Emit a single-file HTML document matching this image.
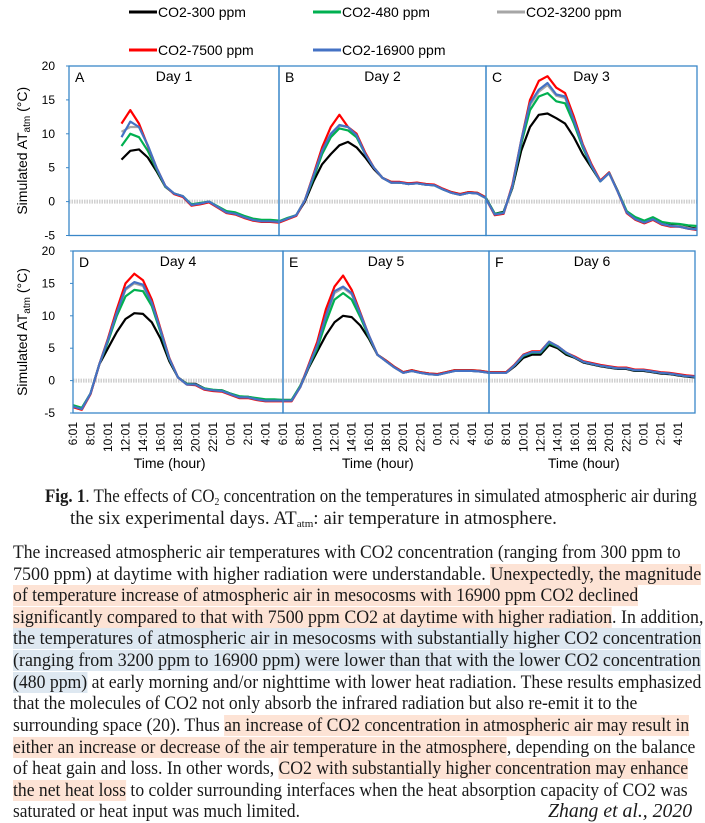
<!DOCTYPE html>
<html><head><meta charset="utf-8">
<style>
html,body{margin:0;padding:0;background:#fff;}
body{width:705px;height:823px;position:relative;overflow:hidden;font-family:"Liberation Sans",sans-serif;}
svg{position:absolute;left:0;top:0;}
.ln{position:absolute;white-space:nowrap;font-family:"Liberation Serif",serif;font-size:19px;line-height:22px;height:22px;color:#1a1a1a;transform-origin:0 50%;}
.ho{background:#fde3d5;}
.hb{background:#dee8f1;}
sub{font-size:11px;vertical-align:-3px;line-height:0;}
</style></head><body>
<svg id="chart" width="705" height="480" xmlns="http://www.w3.org/2000/svg"></svg>

<div class="ln" data-w="652" style="left:45px;top:486px;"><b>Fig. 1</b>. The effects of CO<sub>2</sub> concentration on the temperatures in simulated atmospheric air during</div>
<div class="ln" data-w="487" style="left:70px;top:508px;">the six experimental days. AT<sub>atm</sub>: air temperature in atmosphere.</div>

<div class="ln" data-w="668" style="left:13px;top:542px;">The increased atmospheric air temperatures with CO2 concentration (ranging from 300 ppm to</div>
<div class="ln" data-w="688" style="left:13px;top:564px;">7500 ppm) at daytime with higher radiation were understandable. <span class="ho">Unexpectedly, the magnitude</span></div>
<div class="ln" data-w="625" style="left:13px;top:585px;"><span class="ho">of temperature increase of atmospheric air in mesocosms with 16900 ppm CO2 declined</span></div>
<div class="ln" data-w="690" style="left:13px;top:607px;"><span class="ho">significantly compared to that with 7500 ppm CO2 at daytime with higher radiation</span>. In addition,</div>
<div class="ln" data-w="688" style="left:13px;top:628px;"><span class="hb">the temperatures of atmospheric air in mesocosms with substantially higher CO2 concentration</span></div>
<div class="ln" data-w="688" style="left:13px;top:650px;"><span class="hb">(ranging from 3200 ppm to 16900 ppm) were lower than that with the lower CO2 concentration</span></div>
<div class="ln" data-w="688" style="left:13px;top:672px;"><span class="hb">(480 ppm)</span> at early morning and/or nighttime with lower heat radiation. These results emphasized</div>
<div class="ln" data-w="624" style="left:13px;top:693px;">that the molecules of CO2 not only absorb the infrared radiation but also re-emit it to the</div>
<div class="ln" data-w="676" style="left:13px;top:715px;">surrounding space (20). Thus <span class="ho">an increase of CO2 concentration in atmospheric air may result in</span></div>
<div class="ln" data-w="682" style="left:13px;top:737px;"><span class="ho">either an increase or decrease of the air temperature in the atmosphere</span>, depending on the balance</div>
<div class="ln" data-w="675" style="left:13px;top:758px;">of heat gain and loss. In other words, <span class="ho">CO2 with substantially higher concentration may enhance</span></div>
<div class="ln" data-w="675" style="left:13px;top:780px;"><span class="ho">the net heat loss</span> to colder surrounding interfaces when the heat absorption capacity of CO2 was</div>
<div class="ln" data-w="287" style="left:13px;top:801px;">saturated or heat input was much limited.</div>
<div class="ln" data-w="144" style="left:548px;top:800px;font-style:italic;font-size:20px;">Zhang et al., 2020</div>

<script>
// ---- data (hourly, h0 = 6:01 ... h24 = 6:00 next day), one array per series per day ----
const dayLabels = ["Day 1","Day 2","Day 3","Day 4","Day 5","Day 6"];
const panelLetters = ["A","B","C","D","E","F"];
const seriesNames = ["CO2-300 ppm","CO2-480 ppm","CO2-3200 ppm","CO2-7500 ppm","CO2-16900 ppm"];
const xTickLabels = ["6:01","8:01","10:01","12:01","14:01","16:01","18:01","20:01","22:01","0:01","2:01","4:01"];
const yTickValues = [20,15,10,5,0,-5];
const N = null;
const s300 = [
 [N,N,N,N,N,N,6.2,7.5,7.7,6.5,4.5,2.2,1.2,0.8,-0.5,-0.3,0,-0.8,-1.5,-1.7,-2.2,-2.6,-2.8,-2.8,-2.9],
 [-3,-2.5,-2,0,3,5.5,7,8.3,8.8,8,6.5,4.8,3.5,2.8,2.8,2.6,2.7,2.5,2.4,1.8,1.3,1,1.3,1.2,0.5],
 [0.5,-1.8,-1.5,2,7.5,11,12.8,13,12.3,11.5,9.5,7,5,3,4.2,1.5,-1.5,-2.5,-3,-2.5,-3.2,-3.5,-3.5,-3.8,-4],
 [-4,-4.3,-2,2.5,5,7.5,9.5,10.4,10.3,9,6.5,3,0.5,-0.5,-0.5,-1.2,-1.5,-1.5,-2,-2.5,-2.5,-2.8,-3,-3,-3],
 [-3,-3,-1,2,4.5,7,9,10,9.8,8.5,6.5,4,3,2,1.2,1.5,1.2,1,0.9,1.2,1.5,1.5,1.5,1.4,1.2],
 [1.2,1.2,1.2,2.2,3.5,4,4,5.5,5,4,3.5,2.8,2.5,2.2,2,1.8,1.8,1.5,1.5,1.3,1.1,1,0.8,0.6,0.5]
];
const s480 = [
 [N,N,N,N,N,N,8.2,10,9.5,7.5,4.8,2.2,1.2,0.8,-0.4,-0.2,0,-0.7,-1.4,-1.6,-2.1,-2.5,-2.7,-2.7,-2.8],
 [-2.9,-2.4,-2,0.2,3.5,7,9.5,10.8,10.5,9.5,7,5,3.5,2.9,2.8,2.7,2.7,2.6,2.4,1.8,1.4,1.1,1.4,1.3,0.6],
 [0.5,-1.8,-1.6,2.2,8.5,13.5,15.5,16,14.8,14.5,11.5,8,5.2,3,4.3,1.5,-1.4,-2.3,-2.8,-2.3,-3,-3.2,-3.3,-3.5,-3.6],
 [-3.8,-4.2,-2,2.5,6,10,13,14,13.8,11.5,7.5,3.3,0.5,-0.5,-0.6,-1.2,-1.4,-1.5,-2,-2.4,-2.5,-2.7,-2.9,-2.9,-3],
 [-3,-3,-0.8,2.2,5,9,12.5,13.5,12.5,9.8,6.8,4,3.1,2.1,1.3,1.6,1.3,1.1,1,1.3,1.6,1.6,1.6,1.5,1.3],
 [1.3,1.3,1.3,2.4,3.8,4.3,4.3,5.8,5.2,4.2,3.6,2.9,2.6,2.3,2.1,1.9,1.9,1.6,1.6,1.4,1.2,1.1,0.9,0.7,0.6]
];
const s3200 = [
 [N,N,N,N,N,N,10.3,11,11,8.3,5,2.3,1.2,0.8,-0.5,-0.3,0,-0.8,-1.5,-1.7,-2.3,-2.7,-2.9,-2.9,-3],
 [-3,-2.5,-2,0.2,3.7,7.3,9.8,11.2,11,9.7,7,5,3.5,2.8,2.8,2.6,2.7,2.5,2.4,1.8,1.3,1,1.3,1.2,0.5],
 [0.4,-1.9,-1.7,2.2,8.8,14.2,16.2,17.2,15.6,15.3,11.8,8.2,5.3,3,4.2,1.4,-1.6,-2.6,-3.1,-2.6,-3.3,-3.6,-3.6,-3.9,-4.1],
 [-4,-4.4,-2,2.5,6.2,10.4,14,15,14.6,11.8,7.7,3.4,0.5,-0.6,-0.6,-1.3,-1.5,-1.6,-2.1,-2.6,-2.6,-2.9,-3.1,-3.1,-3.1],
 [-3.1,-3.1,-1,2.2,5.4,9.8,13.5,14.3,13.3,10.2,7,4,3,2,1.2,1.5,1.2,1,0.9,1.2,1.5,1.5,1.5,1.4,1.2],
 [1.2,1.2,1.2,2.4,3.9,4.4,4.4,6,5.3,4.3,3.6,2.9,2.6,2.3,2.1,1.9,1.9,1.6,1.6,1.4,1.2,1.1,0.9,0.7,0.6]
];
const s7500 = [
 [N,N,N,N,N,N,11.5,13.5,11.5,8.2,5,2.3,1.1,0.7,-0.6,-0.4,-0.1,-0.9,-1.7,-1.9,-2.4,-2.8,-3,-3,-3.1],
 [-3.1,-2.6,-2.1,0.2,4,8,11,12.8,11,10,7.2,5,3.5,2.9,2.9,2.7,2.8,2.6,2.5,1.9,1.4,1.1,1.4,1.3,0.6],
 [0.4,-2,-1.8,2.5,9,15,17.8,18.5,16.8,16,12.5,8.5,5.5,3.1,4.3,1.4,-1.7,-2.7,-3.2,-2.7,-3.4,-3.7,-3.7,-4,-4.2],
 [-4.1,-4.5,-2.1,2.5,6.5,11,15,16.5,15.5,12.5,8,3.5,0.5,-0.6,-0.7,-1.4,-1.6,-1.7,-2.2,-2.7,-2.7,-3,-3.2,-3.2,-3.2],
 [-3.2,-3.2,-1,2.5,6,11,14.5,16.2,14,10.5,7,4,3.1,2.1,1.3,1.6,1.3,1.1,1,1.3,1.6,1.6,1.6,1.5,1.3],
 [1.3,1.3,1.3,2.5,4,4.5,4.5,6,5.3,4.3,3.7,3,2.7,2.4,2.2,2,2,1.7,1.7,1.5,1.3,1.2,1,0.8,0.7]
];
const s16900 = [
 [N,N,N,N,N,N,9.5,11.8,11,8.3,5,2.3,1.2,0.8,-0.5,-0.3,0,-0.8,-1.6,-1.8,-2.3,-2.7,-2.9,-2.9,-3],
 [-3,-2.5,-2,0.2,3.8,7.5,10,11.3,11,9.8,7,5,3.5,2.8,2.8,2.6,2.7,2.5,2.4,1.8,1.3,1,1.3,1.2,0.5],
 [0.4,-1.9,-1.7,2.3,9,14.5,16.5,17.5,15.8,15.5,12,8.3,5.3,3,4.2,1.4,-1.6,-2.6,-3.1,-2.6,-3.3,-3.6,-3.7,-4,-4.1],
 [-4,-4.4,-2,2.5,6.3,10.5,14.2,15.2,14.8,12,7.8,3.4,0.5,-0.6,-0.6,-1.3,-1.5,-1.6,-2.1,-2.6,-2.6,-2.9,-3.1,-3.1,-3.1],
 [-3.1,-3.1,-1,2.3,5.5,10,13.8,14.5,13.5,10.3,7,4,3,2,1.2,1.5,1.2,1,0.9,1.2,1.5,1.5,1.5,1.4,1.2],
 [1.2,1.2,1.2,2.4,3.9,4.4,4.4,6,5.3,4.3,3.6,2.9,2.6,2.3,2.1,1.9,1.9,1.6,1.6,1.4,1.2,1.1,0.9,0.7,0.6]
];
const seriesData = [s300, s480, s3200, s7500, s16900];
const seriesColors = ["#000000","#00b050","#a6a6a6","#ff0000","#4472c4"];
const drawOrder = [0,2,1,3,4];

const NS = "http://www.w3.org/2000/svg";
const svg = document.getElementById("chart");
function mk(tag, attrs, parent){
  const e = document.createElementNS(NS, tag);
  for (const k in attrs) e.setAttribute(k, attrs[k]);
  (parent||svg).appendChild(e);
  return e;
}
const rows = [
  {top:66, bottom:235.5, left:69, divs:[69,279,486,697], labelsX:false},
  {top:251, bottom:413, left:73, divs:[73,283,489,695], labelsX:true}
];
function yScale(row, v){ return row.top + (20 - v) / 25 * (row.bottom - row.top); }
function xScale(x0, x1, h){ return x0 + h / 24 * (x1 - x0); }

const legendPos = [[129,12],[313,12],[497,12],[129,50],[313,50]];
seriesNames.forEach((nm,i)=>{
  const [lx,ly] = legendPos[i];
  const g = mk("g",{});
  
  
  mk("line",{x1:lx,y1:ly,x2:lx+28,y2:ly,stroke:seriesColors[i],"stroke-width":3},g);
  const t = mk("text",{x:lx+29,y:ly+5,"font-size":14,fill:"#000","font-family":"Liberation Sans, sans-serif"},g);
  t.textContent = nm;
});

rows.forEach((row, ri)=>{
  const cy = (row.top+row.bottom)/2;
  const yt = mk("text",{x:0,y:0,transform:`translate(27,${cy}) rotate(-90)`,"text-anchor":"middle","font-size":14,fill:"#000"});
  
  
  yt.innerHTML = 'Simulated AT<tspan font-size="10" dy="3">atm</tspan><tspan dy="-3"> (°C)</tspan>';
  yTickValues.forEach(v=>{
    const y = yScale(row,v);
    const t = mk("text",{x:55,y:y+4,"text-anchor":"end","font-size":12,fill:"#000"});
    
    
    t.textContent = v;
    mk("line",{x1:row.left-3,y1:y,x2:row.left,y2:y,stroke:"#3a87c8","stroke-width":1});
  });
  for(let p=0;p<3;p++){
    const di = ri*3+p;
    const x0 = row.divs[p], x1 = row.divs[p+1];
    const z = mk("line",{x1:x0,y1:yScale(row,0),x2:x1,y2:yScale(row,0),stroke:"#d0d0d0","stroke-width":4,"stroke-dasharray":"1.5 1"});
    
    
    drawOrder.forEach(si=>{
      const arr = seriesData[si][di];
      let d="";
      arr.forEach((v,h)=>{
        if(v===null) return;
        d += (d?"L":"M") + xScale(x0,x1,h).toFixed(1) + "," + yScale(row,v).toFixed(1);
      });
      const pth = mk("path",{d:d,fill:"none",stroke:seriesColors[si],"stroke-width":2.2,"stroke-linejoin":"round"});
      
      
    });
    const fr = mk("rect",{x:x0,y:row.top,width:x1-x0,height:row.bottom-row.top,fill:"none",stroke:"#3a87c8","stroke-width":1.3});
    
    
    const lt = mk("text",{x:x0+6,y:row.top+16,"font-size":14,fill:"#000"});
    
    
    lt.textContent = panelLetters[di];
    const dt = mk("text",{x:x0+(x1-x0)*0.5,y:row.top+15,"text-anchor":"middle","font-size":14,fill:"#000"});
    
    
    dt.textContent = dayLabels[di];
    if(row.labelsX){
      xTickLabels.forEach((lb,k)=>{
        const x = xScale(x0,x1,k*2);
        const t = mk("text",{x:0,y:0,transform:`translate(${x+4},${row.bottom+9}) rotate(-90)`,"text-anchor":"end","font-size":12,fill:"#000"});
        
        
        t.textContent = lb;
      });
      const xt = mk("text",{x:x0+(x1-x0)*0.46,y:row.bottom+55,"text-anchor":"middle","font-size":14,fill:"#000"});
      
      
      xt.textContent = "Time (hour)";
    }
  }
});

document.querySelectorAll('.ln').forEach(el=>{
  const target = parseFloat(el.getAttribute('data-w'));
  const w = el.scrollWidth;
  if(w>0) el.style.transform = 'scaleX('+(target/w)+')';
});
</script>
</body></html>
